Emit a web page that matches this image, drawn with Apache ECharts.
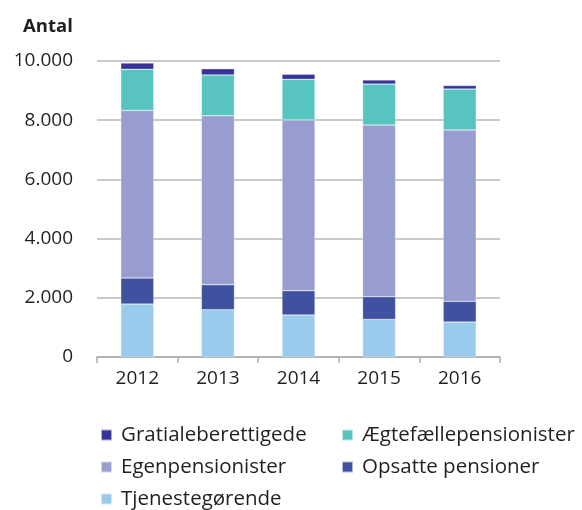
<!DOCTYPE html>
<html><head><meta charset="utf-8">
<script src="https://cdn.jsdelivr.net/npm/echarts@6/dist/echarts.min.js"></script>
<style>html,body{margin:0;padding:0;background:#fff}#c{width:582px;height:510px}</style>
</head><body><div id="c"></div>
<script>
const years = ['2012','2013','2014','2015','2016'];
const tjenestegorende = [1790, 1600, 1420, 1270, 1180];
const opsatte = [880, 840, 820, 770, 700];
const egen = [5660, 5710, 5770, 5800, 5790];
const aegte = [1390, 1380, 1370, 1380, 1380];
const gratiale = [210, 210, 170, 140, 120];
const yTicks = [0, 2000, 4000, 6000, 8000, 10000];

const font = 'Open Sans';
const txt = '#231f20';
const mk = (name, data, color) => ({
  name, type: 'bar', stack: 'a', data, barWidth: 33,
  itemStyle: { color, borderColor: 'rgba(255,255,255,0.6)', borderWidth: 0.5 }
});
const lg = (name, left, top) => ({
  left, top, padding: 0, itemWidth: 11, itemHeight: 11, icon: 'rect',
  textStyle: { fontSize: 20.5, color: txt, lineHeight: 22, fontFamily: font, padding: [0, 0, 0, 4] },
  data: [name]
});
const chart = echarts.init(document.getElementById('c'), null, { renderer: 'canvas' });
chart.setOption({
  animation: false,
  textStyle: { fontFamily: font },
  grid: { left: 97, right: 82, top: 61, bottom: 153 },
  title: { text: 'Antal', left: 18, top: 12, textStyle: { fontFamily: font, fontWeight: 'bold', fontSize: 18.5, color: txt } },
  xAxis: {
    type: 'category', data: years,
    axisLine: { lineStyle: { color: '#a9adad', width: 1.5 } },
    axisTick: { show: true, length: 6, lineStyle: { color: '#a9adad', width: 1.5 } },
    axisLabel: { color: txt, fontSize: 19, margin: 12, fontFamily: font }
  },
  yAxis: {
    type: 'value', min: 0, max: 10000, interval: 2000,
    axisLine: { show: false }, axisTick: { show: false },
    splitLine: { lineStyle: { color: '#b4b8b8', width: 1.5 } },
    axisLabel: { color: txt, fontSize: 19, margin: 24, fontFamily: font,
      formatter: v => yTicks.includes(v) ? v.toLocaleString('de-DE') : '' }
  },
  legend: [
    lg('Gratialeberettigede', 100, 424),
    lg('Egenpensionister', 100, 456),
    lg('Tjenestegørende', 100, 488),
    lg('Ægtefællepensionister', 341, 424),
    lg('Opsatte pensioner', 341, 456)
  ],
  series: [
    mk('Tjenestegørende', tjenestegorende, '#9acbed'),
    mk('Opsatte pensioner', opsatte, '#4051a0'),
    mk('Egenpensionister', egen, '#979dce'),
    mk('Ægtefællepensionister', aegte, '#58c4c0'),
    mk('Gratialeberettigede', gratiale, '#37339a')
  ]
});
</script></body></html>
